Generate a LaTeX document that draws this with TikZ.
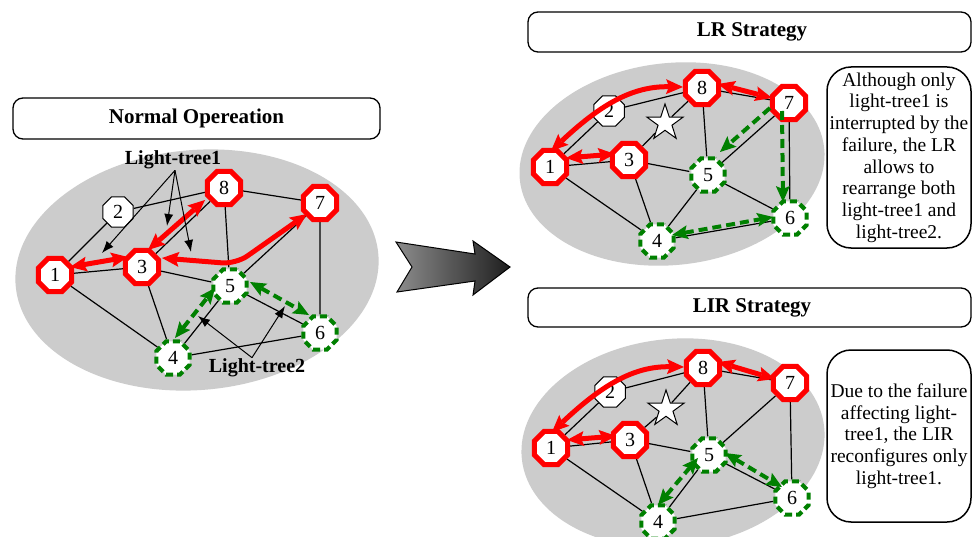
\documentclass[tikz,border=0pt]{standalone}
\usepackage{fontspec}
\setmainfont{Liberation Serif}
\usetikzlibrary{shapes.geometric,arrows.meta,calc}
\pgfdeclarelayer{back}
\pgfdeclarelayer{mid}
\pgfsetlayers{back,mid,main}
\definecolor{treered}{RGB}{255,0,0}
\definecolor{treegreen}{RGB}{0,128,0}
\definecolor{netgray}{RGB}{204,204,204}

\begin{document}
\begin{tikzpicture}[x=1pt,y=-1pt,
  netarea/.style={fill=netgray},
  headbox/.style={draw, line width=1.3pt, fill=white, rounded corners=10pt, inner sep=0pt},
  headtext/.style={font=\fontsize{21}{24}\selectfont\bfseries},
  notebox/.style={draw, line width=1.5pt, fill=white, rounded corners=24pt, align=center,
    inner sep=0pt, font=\fontsize{19.5}{21.7}\selectfont},
  tag/.style={font=\fontsize{20}{22}\selectfont\bfseries, inner sep=1pt},
  link/.style={line width=1.2pt},
  octa/.style={regular polygon, regular polygon sides=8, fill=white, inner sep=0pt,
    font=\fontsize{20}{20}\selectfont},
  rnode/.style={octa, draw=treered, line width=5pt, minimum size=36pt},
  gnode/.style={octa, draw=treegreen, line width=4.2pt, dash pattern=on 7pt off 4pt, minimum size=36pt},
  wnode/.style={octa, draw=black, line width=1pt, minimum size=33pt},
  failmark/.style={star, star points=5, star point ratio=2.6, draw, line width=1pt, fill=white,
    minimum size=38pt, inner sep=0pt},
  tree1/.style={draw=treered, line width=5pt,
    arrows={Stealth[length=17pt,width=15pt,inset=3pt,line width=0pt]-Stealth[length=17pt,width=15pt,inset=3pt,line width=0pt]}},
  tree2/.style={draw=treegreen, line width=4pt, dash pattern=on 9pt off 5pt,
    arrows={Stealth[length=16pt,width=14pt,inset=3pt,line width=0pt]-Stealth[length=16pt,width=14pt,inset=3pt,line width=0pt]}},
  tree2one/.style={draw=treegreen, line width=4pt, dash pattern=on 9pt off 5pt,
    arrows={-Stealth[length=16pt,width=14pt,inset=3pt,line width=0pt]}},
  pointer/.style={line width=1pt, arrows={-Latex[length=12pt,width=9pt]}}
]
\clip (0,0) rectangle (973,537);
\begin{pgfonlayer}{back}
  \fill[white] (0,0) rectangle (973,537);
\end{pgfonlayer}

% ---------------- Normal operation ----------------
\begin{pgfonlayer}{back}
  \fill[netarea, rotate around={5:(197,270)}] (197,270) ellipse [x radius=182, y radius=120];
\end{pgfonlayer}
\node[headbox, minimum width=367pt, minimum height=41pt] (normhead) at (196.5,118.5) {};
\node[headtext] at (normhead) {Normal Opereation};

\node[rnode] (L1) at (55,275) {1};
\node[wnode] (L2) at (118,212) {2};
\node[rnode] (L3) at (142,267) {3};
\node[rnode] (L8) at (224,188) {8};
\node[rnode] (L7) at (320,203) {7};
\node[gnode] (L5) at (230,286) {5};
\node[gnode] (L6) at (320,333) {6};
\node[gnode] (L4) at (173,358) {4};
\coordinate (Lbend) at (236,264);

\begin{pgfonlayer}{mid}
  \draw[link] (L1) -- (L2);
  \draw[link] (L2) -- (L8);
  \draw[link] (L1) -- (L3);
  \draw[link] (L3) -- (L8);
  \draw[link] (L8) -- (L7);
  \draw[link] (L8) -- (L5);
  \draw[link] (L3) -- (L5);
  \draw[link] (L5) -- (L7);
  \draw[link] (L7) -- (L6);
  \draw[link] (L5) -- (L6);
  \draw[link] (L1) -- (L4);
  \draw[link] (L3) -- (L4);
  \draw[link] (L4) -- (L5);
  \draw[link] (L4) -- (L6);
\end{pgfonlayer}

\draw[tree1] ($(L1)+(15,-8)$) -- ($(L3)+(-14,-10)$);
\draw[tree1] ($(L3)+(6,-17)$) -- ($(L8)+(-19,12)$);
\draw[tree1, rounded corners=14pt] ($(L3)+(20,-9)$) -- (Lbend) -- ($(L7)+(-13,11)$);
\draw[tree2] ($(L4)+(2,-20)$) -- ($(L5)+(-15,2)$);
\draw[tree2] ($(L5)+(20,-4)$) -- ($(L6)+(-11,-18)$);

\node[tag] (lt1lab) at (173,160) {Light-tree1};
\coordinate (lt1a) at (102,253);
\coordinate (lt1b) at (167,226);
\coordinate (lt1c) at (191,252);
\draw[pointer] ([xshift=2pt]lt1lab.south) -- (lt1a);
\draw[pointer] ([xshift=2pt]lt1lab.south) -- (lt1b);
\draw[pointer] ([xshift=2pt]lt1lab.south) -- (lt1c);

\node[tag] (lt2lab) at (257,368) {Light-tree2};
\coordinate (lt2a) at (198,316);
\coordinate (lt2b) at (285,306);
\draw[pointer] ([xshift=-5pt]lt2lab.north) -- (lt2a);
\draw[pointer] ([xshift=-5pt]lt2lab.north) -- (lt2b);

% ---------------- transition arrow ----------------
\path[draw=black, line width=1pt, left color=black!45, right color=black!88]
  (396,242) -- (475,254) -- (473,241) -- (510,267) -- (473,295) -- (475,281)
  -- (397,292) -- (412,267) -- cycle;

% ---------------- LR strategy ----------------
\begin{pgfonlayer}{back}
  \fill[netarea, rotate around={6:(672,164)}] (672,164) ellipse [x radius=153, y radius=101];
\end{pgfonlayer}
\node[headbox, minimum width=443pt, minimum height=40pt] (lrhead) at (749.5,32) {};
\node[headtext] at (752,32) {LR Strategy};

\node[rnode] (T1) at (550,167) {1};
\node[wnode] (T2) at (609,111) {2};
\node[rnode] (T3) at (629,160) {3};
\node[rnode] (T8) at (702,88) {8};
\node[rnode] (T7) at (789,103) {7};
\node[gnode] (T5) at (708,175) {5};
\node[gnode] (T6) at (790,218) {6};
\node[gnode] (T4) at (657,241) {4};
\node[failmark] (Ts) at (665,123) {};

\begin{pgfonlayer}{mid}
  \draw[link] (T1) -- (T2);
  \draw[link] (T2) -- (T8);
  \draw[link] (T1) -- (T3);
  \draw[link] (T3) -- (Ts);
  \draw[link] (Ts) -- (T8);
  \draw[link] (T8) -- (T7);
  \draw[link] (T8) -- (T5);
  \draw[link] (T3) -- (T5);
  \draw[link] (T5) -- (T7);
  \draw[link] (T7) -- (T6);
  \draw[link] (T5) -- (T6);
  \draw[link] (T1) -- (T4);
  \draw[link] (T3) -- (T4);
  \draw[link] (T4) -- (T5);
  \draw[link] (T4) -- (T6);
\end{pgfonlayer}

\draw[tree1] ($(T1)+(1,-16)$) .. controls ($(T1)+(50,-62)$) and ($(T8)+(-70,-2)$) .. ($(T8)+(-19,-1)$);
\draw[tree1] ($(T1)+(16,-9)$) -- ($(T3)+(-14,-6)$);
\draw[tree1] ($(T8)+(16,-4)$) -- ($(T7)+(-17,-5)$);
\draw[tree2one] ($(T7)+(-19,5)$) -- ($(T5)+(12,-23)$);
\draw[tree2one] ($(T7)+(-7,8)$) -- ($(T6)+(-7,-16)$);
\draw[tree2] ($(T4)+(15,-6)$) -- ($(T6)+(-17,-1)$);

\node[notebox, minimum width=144pt, minimum height=181pt] (lrnote) at (899,157.5)
  {Although only\\ light-tree1 is\\ interrupted by the\\ failure, the LR\\ allows to\\
   rearrange both\\ light-tree1 and\\ light-tree2.};

% ---------------- LIR strategy ----------------
\begin{pgfonlayer}{back}
  \fill[netarea, rotate around={6:(673,443)}] (673,443) ellipse [x radius=152, y radius=104];
\end{pgfonlayer}
\node[headbox, minimum width=443pt, minimum height=39pt] (lirhead) at (749.5,307.5) {};
\node[headtext] at (752,307.5) {LIR Strategy};

\node[rnode] (B1) at (551,448) {1};
\node[wnode] (B2) at (610,392) {2};
\node[rnode] (B3) at (630,440) {3};
\node[rnode] (B8) at (703,368) {8};
\node[rnode] (B7) at (790,383) {7};
\node[gnode] (B5) at (709,455) {5};
\node[gnode] (B6) at (792,498) {6};
\node[gnode] (B4) at (658,522) {4};
\node[failmark] (Bs) at (666,409) {};

\begin{pgfonlayer}{mid}
  \draw[link] (B1) -- (B2);
  \draw[link] (B2) -- (B8);
  \draw[link] (B1) -- (B3);
  \draw[link] (B3) -- (Bs);
  \draw[link] (Bs) -- (B8);
  \draw[link] (B8) -- (B7);
  \draw[link] (B8) -- (B5);
  \draw[link] (B3) -- (B5);
  \draw[link] (B5) -- (B7);
  \draw[link] (B7) -- (B6);
  \draw[link] (B5) -- (B6);
  \draw[link] (B1) -- (B4);
  \draw[link] (B3) -- (B4);
  \draw[link] (B4) -- (B5);
  \draw[link] (B4) -- (B6);
\end{pgfonlayer}

\draw[tree1] ($(B1)+(1,-16)$) .. controls ($(B1)+(50,-62)$) and ($(B8)+(-70,-2)$) .. ($(B8)+(-19,-1)$);
\draw[tree1] ($(B1)+(16,-8)$) -- ($(B3)+(-14,-4)$);
\draw[tree1] ($(B8)+(15,-6)$) -- ($(B7)+(-15,-4)$);
\draw[tree2] ($(B4)+(0,-17)$) -- ($(B5)+(-11,3)$);
\draw[tree2] ($(B5)+(16,-2)$) -- ($(B6)+(-10,-11)$);

\node[notebox, minimum width=144pt, minimum height=172pt] (lirnote) at (899,436)
  {Due to the failure\\ affecting light-\\ tree1, the LIR\\ reconfigures only\\ light-tree1.};
\end{tikzpicture}
\end{document}
